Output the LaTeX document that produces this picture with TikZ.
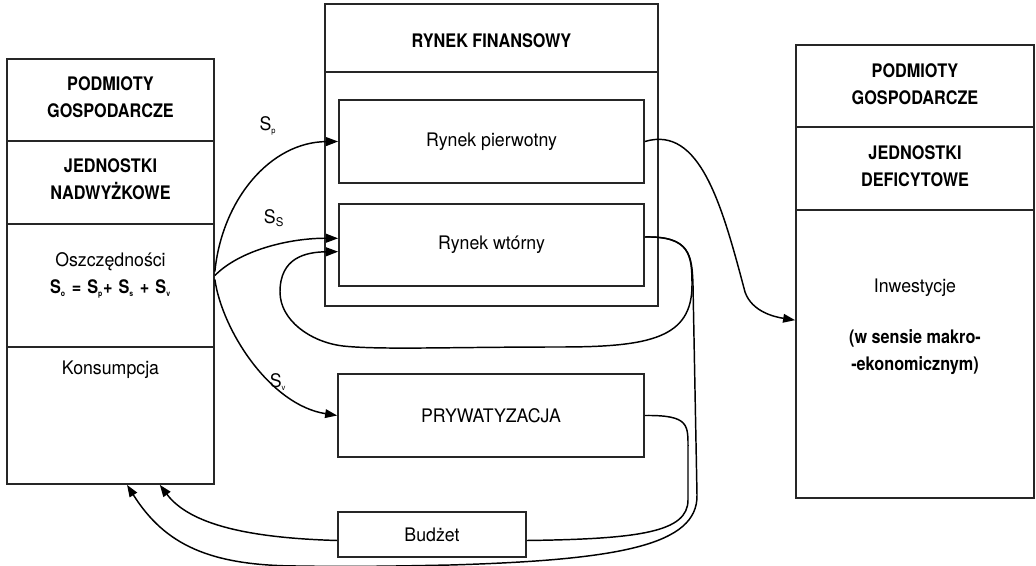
\documentclass[tikz,border=0pt]{standalone}
\usepackage{fontspec}
\setmainfont{TeX Gyre Heros}[FakeStretch=0.95,BoldFeatures={FakeStretch=0.87}]
\usetikzlibrary{arrows.meta,calc}
\newcommand\tinysub[1]{\textsubscript{\fontsize{6}{6}\selectfont #1}}
\newcommand\opgap{\hspace{4.5pt}}
\begin{document}
\begin{tikzpicture}[x=0.75pt,y=-0.75pt,
  frame/.style={draw=black!85,line width=1.3pt,inner sep=0pt},
  divider/.style={draw=black!85,line width=1.3pt},
  label/.style={font=\fontsize{14}{20.25}\selectfont,align=center,inner sep=1pt},
  head/.style={font=\fontsize{14}{20.25}\selectfont\bfseries,align=center,inner sep=1pt},
  flow/.style={draw=black,line width=1.1pt},
  arr/.style={flow,-{Triangle[length=9pt,width=6.5pt]}}]
\useasboundingbox (0,0) rectangle (1036,566);
\fill[white] (0,0) rectangle (1036,566);

% --- left column: surplus units ---
\node[frame,minimum width=155.25pt,minimum height=318.75pt] (surplus) at (110.5,271.5) {};
\draw[divider] (surplus.west |- 0,141) -- (surplus.east |- 0,141);
\draw[divider] (surplus.west |- 0,224) -- (surplus.east |- 0,224);
\draw[divider] (surplus.west |- 0,347) -- (surplus.east |- 0,347);
\node[head] (sHead) at (110.5,97) {PODMIOTY\\GOSPODARCZE};
\node[head] (sUnits) at (110.5,179) {JEDNOSTKI\\NADWYŻKOWE};
\node[label] (savings) at (110.5,262) {Oszczędności};
\node[label,font=\fontsize{14}{20}\selectfont\bfseries] (eq) at (110.5,289)
  {S\tinysub{o}\opgap=\opgap S\tinysub{p}+\opgap S\tinysub{s}\opgap+\opgap S\tinysub{v}};
\node[label] (consumption) at (110.5,370) {Konsumpcja};

% --- financial market ---
\node[frame,minimum width=249.75pt,minimum height=226.5pt] (market) at (491.5,155) {};
\draw[divider] (market.west |- 0,72) -- (market.east |- 0,72);
\node[head] (mHead) at (491.5,41) {RYNEK FINANSOWY};
\node[frame,label,minimum width=228.75pt,minimum height=62.25pt] (primary) at (491.5,141.5) {Rynek pierwotny};
\node[frame,label,minimum width=228.75pt,minimum height=61.5pt] (secondary) at (491.5,245) {Rynek wtórny};

% --- privatisation and budget ---
\node[frame,label,minimum width=229.5pt,minimum height=62.25pt] (priv) at (491,415.5) {PRYWATYZACJA};
\node[frame,label,minimum width=141pt,minimum height=33.75pt] (budget) at (432,534.5) {Budżet};

% --- right column: deficit units ---
\node[frame,minimum width=178.5pt,minimum height=339.75pt] (deficit) at (915,271.5) {};
\draw[divider] (deficit.west |- 0,127) -- (deficit.east |- 0,127);
\draw[divider] (deficit.west |- 0,210) -- (deficit.east |- 0,210);
\node[head] (dHead) at (915,84) {PODMIOTY\\GOSPODARCZE};
\node[head] (dUnits) at (915,166) {JEDNOSTKI\\DEFICYTOWE};
\node[label] (invest) at (915,288) {Inwestycje};
\node[head] (macro) at (915,352) {(w sensie makro-\\-ekonomicznym)};

% --- flow labels ---
\node[label] (lp) at (268,126) {S\tinysub{p}};
\node[label] (ls) at (274,218) {S\textsubscript{\fontsize{9}{9}\selectfont S}};
\node[label] (lv) at (278,382) {S\tinysub{v}};

% --- savings flows ---
\draw[arr] ([yshift=0pt]surplus.east) .. controls (222,200) and (270,142) .. (primary.west);
\draw[arr] ([yshift=-3pt]surplus.east) .. controls (240,250) and (290,238) .. ([yshift=5pt]secondary.west);
\draw[arr] ([yshift=-6pt]surplus.east) .. controls (222,330) and (270,405) .. (priv.west);

% --- secondary market turnover loop ---
\coordinate (secOut) at ([yshift=6pt]secondary.east);
\draw[arr] (secOut) .. controls (690,236) and (692,255) .. (692,285)
  .. controls (692,338) and (650,347) .. (560,347)
  .. controls (450,347) and (380,350) .. (343,346)
  .. controls (310,342) and (280,320) .. (280,292)
  .. controls (280,258) and (305,252) .. ([yshift=-5pt]secondary.west);

% --- return flow from the secondary market to consumption ---
\draw[arr] (secOut) .. controls (690,236) and (692,255) .. (693,285)
  -- (697,495) .. controls (698,545) and (620,560) .. (450,565)
  .. controls (400,566) and (350,567) .. (300,566)
  .. controls (210,566) and (165,545) .. ([xshift=12.4pt]surplus.south);

% --- privatisation through the budget to consumption ---
\draw[flow] (priv.east) .. controls (690,415) and (688,425) .. (688,450)
  -- (688,500) .. controls (688,532) and (640,539) .. ([yshift=-4.5pt]budget.east);
\draw[arr] ([yshift=-4.5pt]budget.west) .. controls (250,538) and (190,525) .. ([xshift=37pt]surplus.south);

% --- primary market to investment ---
\draw[arr] ([yshift=0pt]primary.east) .. controls (700,125) and (722,205) .. (745,292)
  .. controls (752,312) and (775,317) .. ([yshift=-36.5pt]deficit.west);
\end{tikzpicture}
\end{document}
